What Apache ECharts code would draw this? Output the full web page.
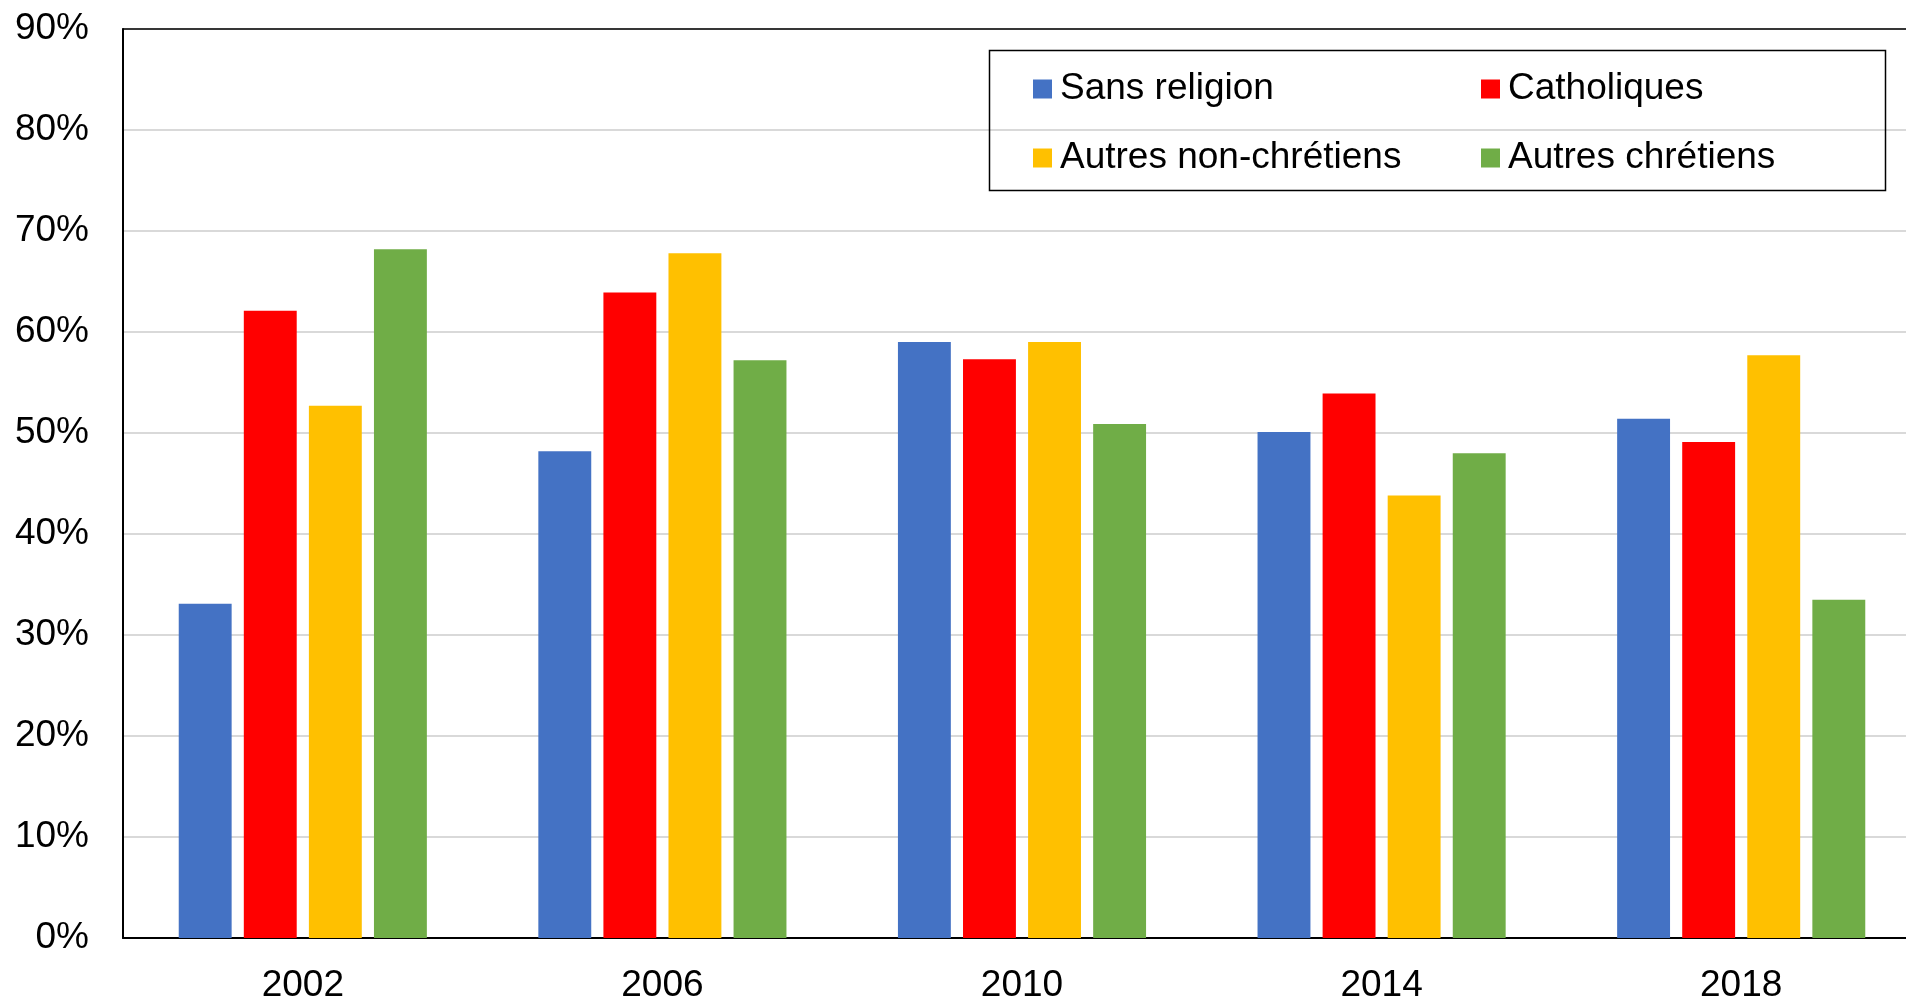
<!DOCTYPE html>
<html>
<head>
<meta charset="utf-8">
<script src="https://cdn.jsdelivr.net/npm/echarts@6/dist/echarts.min.js"></script>
<style>
html,body{margin:0;padding:0;background:#fff;}
#chart{width:1906px;height:998px;}
</style>
</head>
<body>
<div id="chart"></div>
<script>
const categories = ['2002', '2006', '2010', '2014', '2018'];
const sansReligion = [33.1, 48.2, 59.0, 50.1, 51.4];
const catholiques = [62.1, 63.9, 57.3, 53.9, 49.1];
const autresNonChretiens = [52.7, 67.8, 59.0, 43.8, 57.7];
const autresChretiens = [68.2, 57.2, 50.9, 48.0, 33.5];
const seriesNames = ['Sans religion', 'Catholiques', 'Autres non-chrétiens', 'Autres chrétiens'];
const seriesColors = ['#4472C4', '#FF0000', '#FFC000', '#70AD47'];
const seriesData = [sansReligion, catholiques, autresNonChretiens, autresChretiens];

const FONT = '"Liberation Sans", Arial, sans-serif';
const FS = 37;
const chart = echarts.init(document.getElementById('chart'));

const legendText = {fontSize: FS, fontFamily: FONT, color: '#000', lineHeight: 40, padding: [0, 0, 0, 3]};

chart.setOption({
  animation: false,
  backgroundColor: '#fff',
  grid: {left: 123, top: 29, right: -15, bottom: 60, show: false, containLabel: false, outerBoundsMode: 'none'},
  legend: [
    {
      data: ['Sans religion', 'Autres non-chrétiens'],
      orient: 'vertical', left: 1033, top: 69, itemWidth: 19, itemHeight: 19, itemGap: 29,
      icon: 'rect', textStyle: legendText, padding: 0
    },
    {
      data: ['Catholiques', 'Autres chrétiens'],
      orient: 'vertical', left: 1481, top: 69, itemWidth: 19, itemHeight: 19, itemGap: 29,
      icon: 'rect', textStyle: legendText, padding: 0
    }
  ],
  graphic: [{
    type: 'rect', z: 100, silent: true,
    shape: {x: 989.5, y: 50.5, width: 896, height: 140},
    style: {fill: 'none', stroke: '#000', lineWidth: 1.5}
  }],
  xAxis: [{
    type: 'category', data: categories,
    axisLine: {show: true, lineStyle: {color: '#000', width: 2}},
    axisTick: {show: false},
    axisLabel: {fontSize: FS, fontFamily: FONT, color: '#000', margin: 29},
    splitLine: {show: false}
  }, {
    type: 'category', data: categories, position: 'top',
    axisLine: {show: true, lineStyle: {color: '#000', width: 1.5}},
    axisTick: {show: false}, axisLabel: {show: false}, splitLine: {show: false}
  }],
  yAxis: {
    type: 'value', min: 0, max: 90, interval: 10,
    axisLine: {show: true, lineStyle: {color: '#000', width: 2}},
    axisTick: {show: false},
    axisLabel: {fontSize: FS, fontFamily: FONT, color: '#000', margin: 34, formatter: '{value}%'},
    splitLine: {show: true, lineStyle: {color: '#D9D9D9', width: 2}}
  },
  series: seriesNames.map((name, i) => ({
    name: name, type: 'bar', data: seriesData[i],
    barGap: '23%', barCategoryGap: '31%',
    itemStyle: {color: seriesColors[i]}
  }))
});
</script>
</body>
</html>
